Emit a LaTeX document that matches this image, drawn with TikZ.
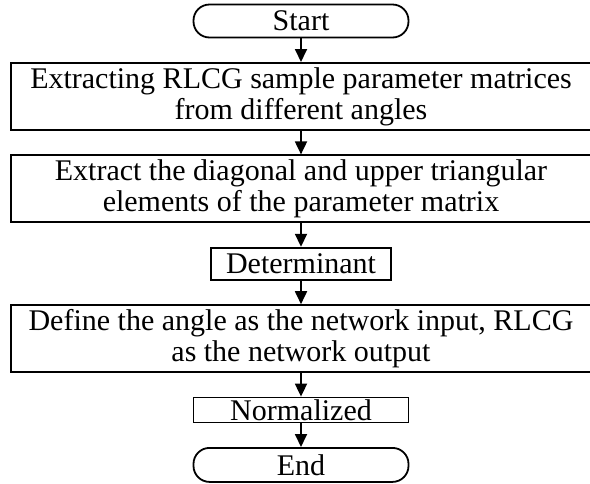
\documentclass[tikz,border=0pt]{standalone}
\usepackage{fontspec}
\setmainfont{Liberation Serif}
\usetikzlibrary{chains,positioning,arrows.meta}

\begin{document}
\begin{tikzpicture}[
  x=1pt,y=1pt,
  node distance=11.8pt,
  every node/.style={draw,inner sep=1pt,align=center,
    font=\fontsize{15}{15.5}\selectfont},
  every path/.style={line width=0.9pt,>={Triangle[width=6pt,length=6.5pt]}},
  term/.style={rounded corners=8pt,minimum width=107.5pt,minimum height=16.5pt},
  wide/.style={minimum width=290pt,minimum height=33.5pt},
  ]
  \useasboundingbox (0,0) rectangle (295,-241.5);
  \begin{scope}[
    start chain=going below,
    every node/.append style={join,on chain},
    every join/.style={->},
    ]
    \node(start)[term] at (150.5,-10.5){Start};
    \node(extract)[wide]{Extracting RLCG sample parameter matrices\\from different angles};
    \node(upper)[wide]{Extract the diagonal and upper triangular\\elements of the parameter matrix};
    \node(det)[minimum width=90pt,minimum height=16pt]{Determinant};
    \node(define)[wide]{Define the angle as the network input, RLCG\\as the network output};
    \node(norm)[minimum width=107.5pt,minimum height=12.5pt,inner ysep=0pt]{Normalized};
    \node(fin)[term,minimum height=17pt]{End};
  \end{scope}
\end{tikzpicture}
\end{document}
